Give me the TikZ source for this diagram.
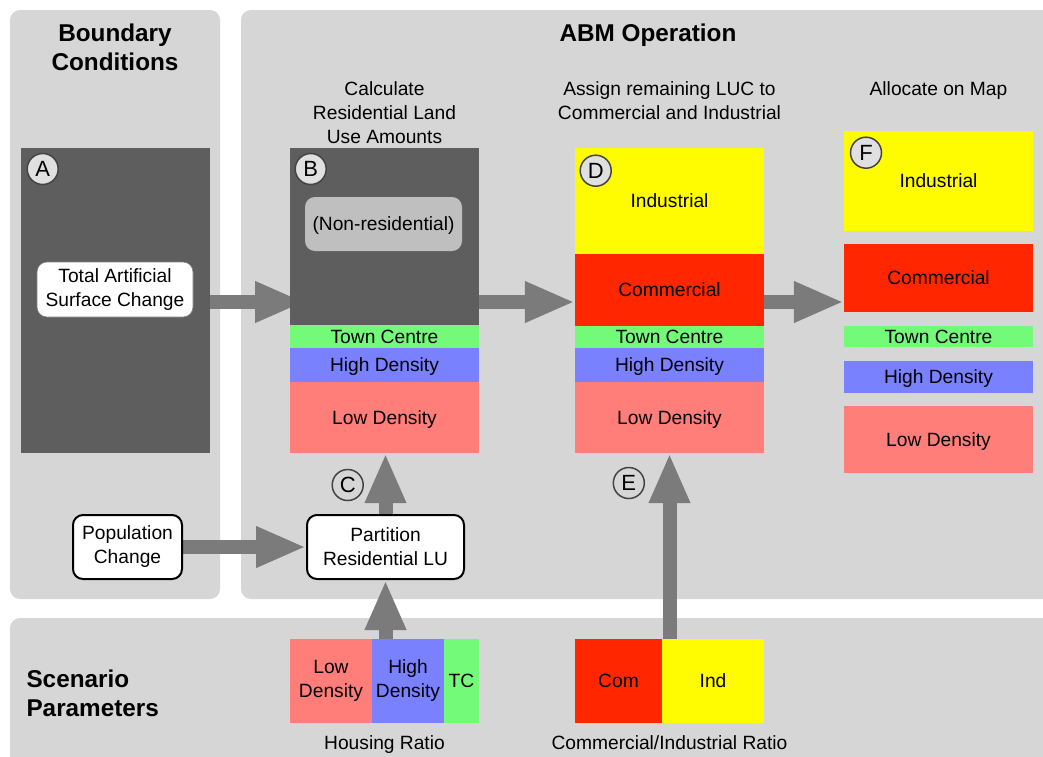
\documentclass[tikz,border=0pt]{standalone}
\usepackage{fontspec}
\setmainfont{Liberation Sans}
\usepackage{xcolor}
\definecolor{panelgray}{RGB}{214,214,214}
\definecolor{boxdark}{RGB}{94,94,94}
\definecolor{boxlight}{RGB}{191,191,191}
\definecolor{arrowgray}{RGB}{123,123,123}
\definecolor{luind}{RGB}{255,251,0}
\definecolor{lucom}{RGB}{255,38,0}
\definecolor{lutc}{RGB}{115,250,121}
\definecolor{luhd}{RGB}{122,129,255}
\definecolor{luld}{RGB}{255,126,121}
\definecolor{markfill}{RGB}{224,224,224}
\definecolor{markline}{RGB}{68,68,68}
\usetikzlibrary{arrows.meta}
\newcommand{\lblfont}{\fontsize{19.2}{24}\selectfont}
\newcommand{\headfont}{\fontsize{24.3}{28.5}\selectfont\bfseries}
\newcommand{\markfont}{\fontsize{22}{24}\selectfont}
\pgfdeclarelayer{back}
\pgfsetlayers{back,main}

\begin{document}
\begin{tikzpicture}[x=1pt, y=-1pt,
  panel/.style={fill=panelgray, rounded corners=10pt},
  band/.style={
    rectangle, inner sep=0pt, minimum width=189pt,
    align=center, font=\lblfont
  },
  lu/.style={band, text height=13.8pt, text depth=0pt},
  proc/.style={
    rectangle, rounded corners=10pt, draw=black, line width=2pt, fill=white,
    minimum height=64pt, align=center, font=\lblfont, inner sep=0pt
  },
  marker/.style={
    circle, draw=markline, line width=1.5pt, fill=markfill,
    minimum size=31pt, inner sep=0pt, font=\markfont
  },
  title/.style={font=\headfont, align=center},
  caption/.style={font=\lblfont, align=center},
  arr/.style={-{Triangle[length=50pt, width=38pt]}, line width=14pt, draw=arrowgray},
]
\clip (0,0) rectangle (1043,756);

%% Panels
\begin{pgfonlayer}{back}
  \fill[white] (0,0) rectangle (1043,756);
  \fill[panel] (10,10)  rectangle (220,599);
  \fill[panel] (241,10) rectangle (1070,599);
  \fill[panel] (10,618) rectangle (1070,790);
\end{pgfonlayer}

%% Titles (base = last line)
\node[title, anchor=base] (bctitle)  at (115,70.2)   {Boundary\\Conditions};
\node[title, anchor=base] (abmtitle) at (648,41.5)   {ABM Operation};
\node[title, anchor=base west, align=left] (sptitle) at (23,716) {Scenario\\Parameters};

\node[caption, anchor=base] (bcap) at (384.5,143) {Calculate\\Residential Land\\Use Amounts};
\node[caption, anchor=base] (dcap) at (669.5,119) {Assign remaining LUC to\\Commercial and Industrial};
\node[caption, anchor=base] (fcap) at (938.5,95)  {Allocate on Map};

%% Boundary conditions
\node[band, fill=boxdark, minimum height=305pt] (abox) at (115.5,300.5) {};
\node[proc, draw=gray, line width=0.6pt, minimum width=156pt, minimum height=55pt]
  (tas) at (115,289.5) {Total Artificial\\Surface Change};
\node[proc, minimum width=109pt] (pop) at (127.5,547) {Population\\Change};

%% Residential amounts
\node[band, fill=boxdark, minimum height=177pt] (bdark) at (384.5,236.5) {};
\node[lu, fill=boxlight, rounded corners=10pt, minimum width=157pt, minimum height=54pt]
  (nonres) at (383.5,224) {(Non-residential)};
\node[lu, fill=lutc, minimum height=23pt] (btc) at (384.5,336.5) {Town Centre};
\node[lu, fill=luhd, minimum height=34pt] (bhd) at (384.5,365)   {High Density};
\node[lu, fill=luld, minimum height=71pt] (bld) at (384.5,417.5) {Low Density};
\node[proc, minimum width=157pt] (part) at (385.5,547) {Partition\\Residential LU};

%% Commercial and industrial
\node[lu, fill=luind, minimum height=106pt] (dind) at (669.5,201)   {Industrial};
\node[lu, fill=lucom, minimum height=72pt]  (dcom) at (669.5,290)   {Commercial};
\node[lu, fill=lutc,  minimum height=22pt]  (dtc)  at (669.5,337)   {Town Centre};
\node[lu, fill=luhd,  minimum height=34pt]  (dhd)  at (669.5,365)   {High Density};
\node[lu, fill=luld,  minimum height=71pt]  (dld)  at (669.5,417.5) {Low Density};

%% Map allocation
\node[lu, fill=luind, minimum height=100pt] (find) at (938.5,181)   {Industrial};
\node[lu, fill=lucom, minimum height=68pt]  (fcom) at (938.5,278)   {Commercial};
\node[lu, fill=lutc,  minimum height=21pt]  (ftc)  at (938.5,336.5) {Town Centre};
\node[lu, fill=luhd,  minimum height=32pt]  (fhd)  at (938.5,377)   {High Density};
\node[lu, fill=luld,  minimum height=67pt]  (fld)  at (938.5,439.5) {Low Density};

%% Scenario parameters
\node[band, fill=luld, minimum width=82pt, minimum height=84pt] (hlow)  at (331,681)   {Low\\Density};
\node[band, fill=luhd, minimum width=72pt, minimum height=84pt] (hhigh) at (408,681)   {High\\Density};
\node[lu, fill=lutc, minimum width=35pt, minimum height=84pt]   (htc)   at (461.5,681) {TC};
\node[caption, anchor=base] (hrcap) at (384.5,749) {Housing Ratio};

\node[lu, fill=lucom, minimum width=87pt,  minimum height=84pt] (ccom) at (618.5,681) {Com};
\node[lu, fill=luind, minimum width=102pt, minimum height=84pt] (cind) at (713,681)   {Ind};
\node[caption, anchor=base] (cicap) at (669.5,749) {Commercial/Industrial Ratio};

%% Markers
\node[marker] (ma) at (42.7,169)   {A};
\node[marker] (mb) at (310.7,169)  {B};
\node[marker, fill=panelgray] (mc) at (347.7,485) {C};
\node[marker] (md) at (595.7,170.7) {D};
\node[marker, fill=panelgray] (me) at (628.8,483) {E};
\node[marker] (mf) at (866,152.7)  {F};

%% Flechas
\coordinate (mid)   at (0,302);
\coordinate (abtip) at (305,302);
\begin{pgfonlayer}{back}
  \draw[arr] (tas.east |- mid)   -- (abtip);
  \draw[arr] (bdark.east |- mid) -- (dcom.west |- mid);
  \draw[arr] (dcom.east |- mid)  -- (fcom.west |- mid);
  \draw[arr] (pop.east)          -- (part.west);
  \draw[arr] (part.north)        -- (part.north |- bld.south);
  \draw[arr] (part.south |- hlow.north) -- (part.south);
  \draw[arr] (dld.south |- cind.north)  -- (dld.south);
\end{pgfonlayer}

\end{tikzpicture}
\end{document}
